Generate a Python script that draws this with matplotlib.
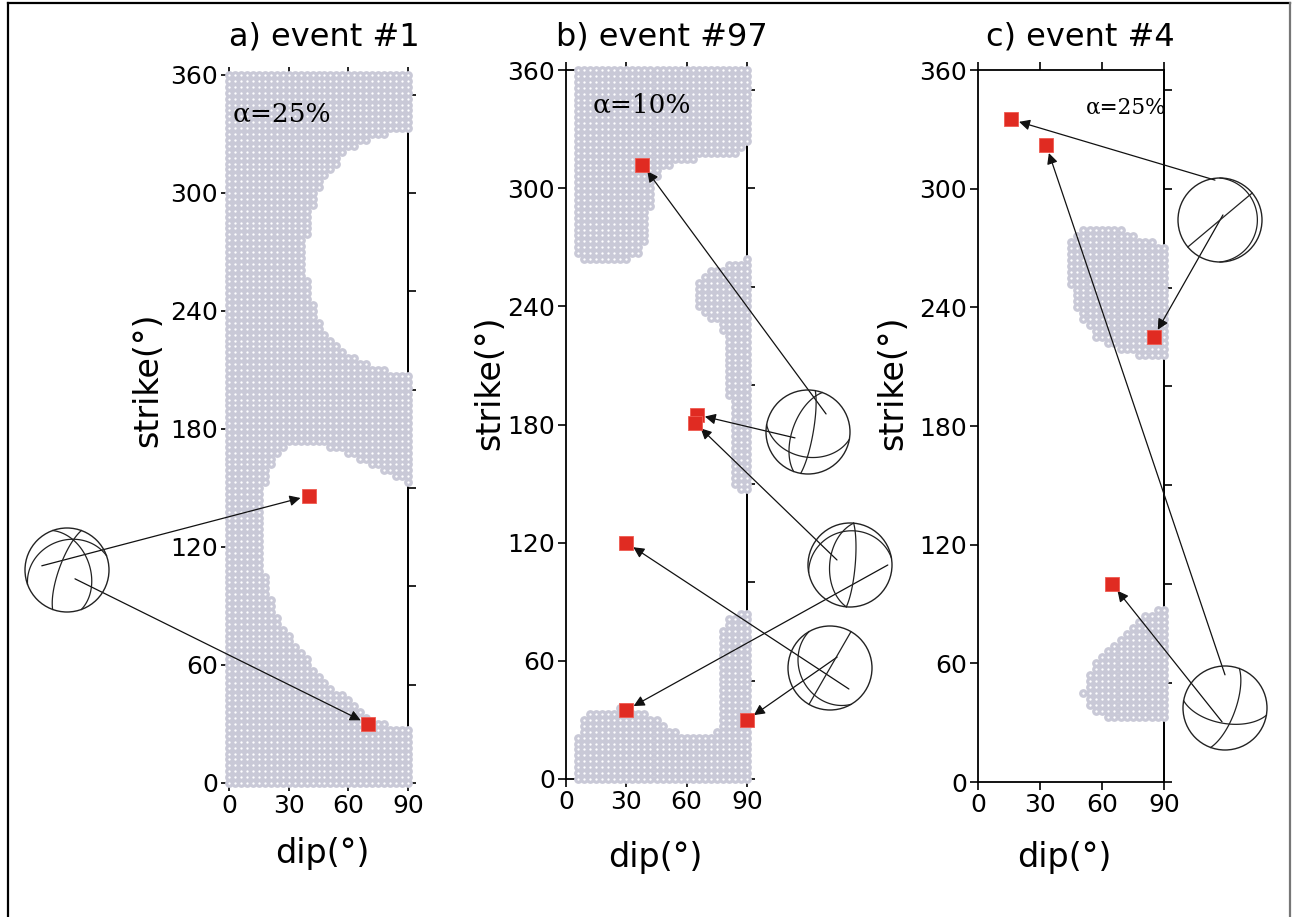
import numpy as np
import matplotlib.pyplot as plt
from matplotlib.path import Path
from matplotlib.patches import Circle
from matplotlib.lines import Line2D

W, H = 1298, 917
GRAY = '#c9c9d7'
RED = '#e02b22'

# ---- data: outlines of the gray (accepted) regions (dip, strike)
a_hole1_dip = [95, 90, 75.9, 60.8, 50.8, 43.2, 39.2, 38.2, 39.7, 44.7, 53.3, 65.9, 81, 90, 95]
a_hole1_str = [332, 332, 329.5, 321.9, 311.7, 299, 281.2, 265.9, 250.6, 235.4, 222.7, 214.1, 210, 208.5, 208.5]
a_hole2_dip = [95, 90, 75.9, 60.8, 45.8, 33.2, 24.6, 19.6, 16.6, 15.6, 16.6, 19.6, 25.6, 35.7, 48.3, 60.8, 70.9, 81, 90, 95]
a_hole2_str = [152.5, 152.5, 159.2, 166.8, 171.9, 173.4, 168.3, 159.2, 146.4, 133.7, 113.4, 98.1, 82.9, 67.6, 52.4, 42.2, 33.1, 29.5, 29.5, 29.5]

b_blob1_dip = [5.5, 91, 91, 85, 71.6, 58.2, 46.7, 43.3, 41.8, 40.8, 36.8, 29.3, 16.9, 8, 5.5]
b_blob1_str = [362, 362, 321.9, 317.9, 315.9, 314.3, 309.2, 300.6, 286.4, 273.7, 266.1, 262.5, 261, 262.5, 266.1]
b_blob2_dip = [91, 84, 74.1, 66.6, 63.1, 63.1, 69.1, 76.6, 80.1, 80.6, 81.6, 82.1, 83.5, 86.5, 91]
b_blob2_str = [265, 262.5, 259.4, 255.9, 248.3, 240.7, 235.6, 230.5, 220.4, 202.6, 182.3, 162, 149.3, 144.2, 144.2]
b_blob3_dip = [5.5, 6, 8.5, 13.4, 26.9, 36.8, 45.2, 51.7, 58.2, 70.1, 75.1, 75.6, 75.6, 76.6, 80.1, 85, 91, 91]
b_blob3_str = [-2, 23.4, 31.5, 35, 36.1, 35, 31, 25.9, 22.3, 22.3, 26.4, 40.1, 65.5, 74.1, 82.3, 84.3, 84.8, -2]

c_blob1_dip = [91, 83.2, 73.5, 62.4, 50.8, 45.5, 43.5, 44.5, 47.9, 52.7, 59, 67.3, 76.9, 91]
c_blob1_str = [270.5, 274, 277.6, 281.1, 280.6, 275.6, 265.4, 252.3, 240.2, 230.1, 222.5, 218.4, 215.9, 214.9]
c_blob2_dip = [91, 86.6, 78.4, 70.2, 63.9, 57.6, 52.7, 50.8, 54.2, 60.5, 75, 91]
c_blob2_str = [89.5, 88, 82.9, 75.3, 68.3, 61.7, 53.1, 45, 36.4, 32.9, 32.4, 32.4]

# red squares (dip, strike)
a_dip = [40, 70]
a_str = [146, 30]
b_dip = [38, 65, 64, 30, 30, 90]
b_str = [312, 185, 181, 120, 35, 30]
c_dip = [16, 33, 85, 65]
c_str = [335, 322, 225, 100]

# which beach ball each square's arrow comes from, and start point inside the ball (unit radius)
a_link = [(0, -0.6, 0.1), (0, 0.19, -0.21)]
b_link = [(0, 0.43, 0.43), (0, -0.31, -0.14), (1, -0.31, 0.12), (2, 0.45, -0.5), (1, 0.9, 0.0), (2, 0.17, 0.26)]
c_link = [(0, -0.12, 0.95), (1, 0.0, 0.79), (0, 0.07, 0.12), (1, -0.07, -0.33)]

# beach balls: centre in pixels and nodal planes (strike, dip)
a_balls = [((67, 570), [(200, 75), (340, 45), (250, 30)])]
b_balls = [((808, 432), [(10, 80), (200, 60), (100, 40)]),
           ((850, 565), [(5, 80), (185, 50), (260, 20)]),
           ((830, 668), [(30, 90), (150, 30)])]
c_balls = [((1220, 220), [(50, 90), (0, 12)]),
           ((1225, 708), [(100, 60), (20, 70)])]

panels = [
    dict(box=(229, 408, 75, 783), title='a) event #1', alpha='α=25%', apos=(2, 340), asize=19,
         keep=[([-5, 95, 95, -5], [-5, -5, 365, 365])],
         holes=[(a_hole1_dip, a_hole1_str), (a_hole2_dip, a_hole2_str)],
         dip=a_dip, strike=a_str, link=a_link, balls=a_balls,
         ylab=(148, 380), xlab=(322, 853), tpos=(324, 37)),
    dict(box=(566, 747, 70, 779), title='b) event #97', alpha='α=10%', apos=(13, 342), asize=19,
         keep=[(b_blob1_dip, b_blob1_str), (b_blob2_dip, b_blob2_str), (b_blob3_dip, b_blob3_str)],
         holes=[], dip=b_dip, strike=b_str, link=b_link, balls=b_balls,
         ylab=(490, 383), xlab=(655, 857), tpos=(662, 37)),
    dict(box=(978, 1164, 70, 782), title='c) event #4', alpha='α=25%', apos=(52, 341), asize=15.5,
         keep=[(c_blob1_dip, c_blob1_str), (c_blob2_dip, c_blob2_str)],
         holes=[], dip=c_dip, strike=c_str, link=c_link, balls=c_balls,
         ylab=(893, 383), xlab=(1064, 857), tpos=(1080, 37)),
]


def plane_curve(strike, dip, n=120):
    # lower hemisphere equal-area projection of a nodal plane
    phi, dl = np.radians(strike), np.radians(dip)
    lam = np.linspace(0, np.pi, n)
    sd = np.array([np.sin(phi), np.cos(phi), 0.0])
    dd = np.array([np.cos(dl) * np.cos(phi), -np.cos(dl) * np.sin(phi), np.sin(dl)])
    v = np.outer(np.cos(lam), sd) + np.outer(np.sin(lam), dd)
    plunge = np.arcsin(np.clip(v[:, 2], -1, 1))
    az = np.arctan2(v[:, 0], v[:, 1])
    r = np.sqrt(2) * np.sin((np.pi / 2 - plunge) / 2)
    return r * np.sin(az), r * np.cos(az)


fig = plt.figure(figsize=(W / 100, H / 100), dpi=100)
plt.rcParams['font.family'] = 'DejaVu Sans'

gd, gs = np.meshgrid(np.arange(0, 91, 3), np.arange(0, 361, 3))
grid = np.column_stack([gd.ravel(), gs.ravel()])

for p in panels:
    x0, x1, y0, y1 = p['box']
    ax = fig.add_axes([x0 / W, 1 - y1 / H, (x1 - x0) / W, (y1 - y0) / H])
    ax.set_xlim(0, 90)
    ax.set_ylim(0, 360)
    ax.set_xticks([0, 30, 60, 90])
    ax.set_yticks(range(0, 361, 60))
    ax.tick_params(direction='out', length=6, width=1.2, labelsize=18, pad=2,
                   top=True, colors='k')
    for s in ax.spines.values():
        s.set_linewidth(1.3)
    sec = ax.secondary_yaxis('right')
    sec.set_yticks(range(0, 351, 50))
    sec.tick_params(direction='out', length=6, width=1.2, labelright=False)
    sec.spines['right'].set_linewidth(1.3)

    # gray grid of accepted models: overlapping discs, a small white dot in each
    inside = np.zeros(len(grid), bool)
    for d, s in p['keep']:
        inside |= Path(np.column_stack([d, s])).contains_points(grid)
    for d, s in p['holes']:
        inside &= ~Path(np.column_stack([d, s])).contains_points(grid)
    ax.scatter(grid[inside, 0], grid[inside, 1], s=40, c=GRAY, marker='o',
               linewidths=0, zorder=3, clip_on=False)
    ax.scatter(grid[inside, 0], grid[inside, 1], s=2.8, c='white', marker='o',
               linewidths=0, zorder=3.1, clip_on=False)

    ax.plot(p['dip'], p['strike'], 's', ms=10, color=RED, mec='#f05a50', mew=0.6,
            zorder=6, clip_on=False)
    ax.text(*p['apos'], p['alpha'], family='DejaVu Serif', fontsize=p['asize'],
            ha='left', va='center', zorder=7)

    # beach balls
    bax = []
    for (cx, cy), planes in p['balls']:
        r = 42
        b = fig.add_axes([(cx - 1.1 * r) / W, 1 - (cy + 1.1 * r) / H, 2.2 * r / W, 2.2 * r / H])
        b.set_xlim(-1.1, 1.1)
        b.set_ylim(-1.1, 1.1)
        b.axis('off')
        b.add_patch(Circle((0, 0), 1, fill=False, lw=1.0, ec='#222222'))
        for st, dp in planes:
            xs, ys = plane_curve(st, dp)
            b.plot(xs, ys, color='#222222', lw=0.9)
        bax.append(b)

    for (bi, lx, ly), d, s in zip(p['link'], p['dip'], p['strike']):
        ax.annotate('', xy=(d, s), xycoords='data', xytext=(lx, ly),
                    textcoords=bax[bi].transData, annotation_clip=False,
                    arrowprops=dict(arrowstyle='-|>', color='#111111', lw=0.9,
                                    shrinkA=0, shrinkB=6, mutation_scale=16),
                    zorder=5)

    fig.text(p['tpos'][0] / W, 1 - p['tpos'][1] / H, p['title'], fontsize=23,
             ha='center', va='center')
    fig.text(p['ylab'][0] / W, 1 - p['ylab'][1] / H, 'strike(°)', fontsize=24,
             rotation=90, ha='center', va='center')
    fig.text(p['xlab'][0] / W, 1 - p['xlab'][1] / H, 'dip(°)', fontsize=24,
             ha='center', va='center')

# frame round the whole figure
fig.add_artist(Line2D([7.5 / W, 7.5 / W], [0, 1 - 2.5 / H], color='k', lw=1.6))
fig.add_artist(Line2D([7.5 / W, 1290 / W], [1 - 2.5 / H, 1 - 2.5 / H], color='k', lw=1.6))
fig.add_artist(Line2D([1290 / W, 1290 / W], [0, 1 - 2.5 / H], color='#777777', lw=1.6))

fig.savefig('out.png', dpi=100)
